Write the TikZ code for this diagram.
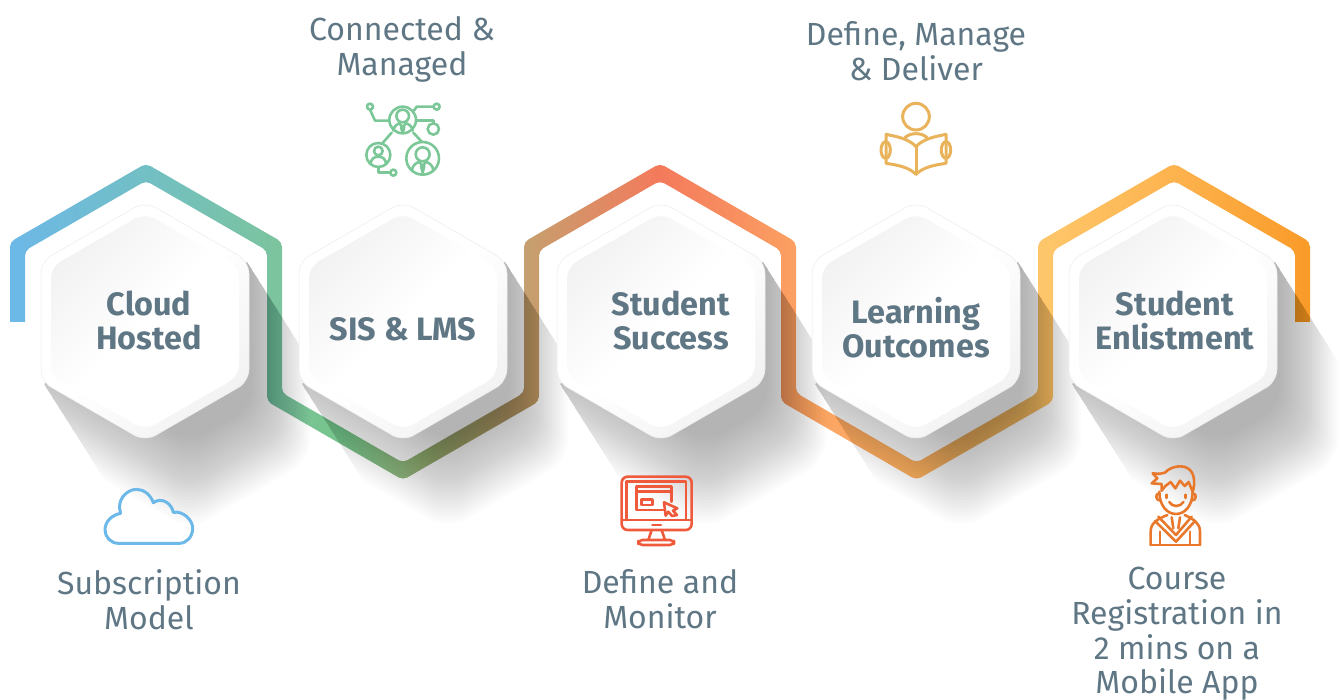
\documentclass[tikz,border=0pt]{standalone}
\usepackage{fontspec}
\setmainfont{Fira Sans}
\definecolor{slatetext}{HTML}{5F7684}
\definecolor{bandA}{HTML}{6CB8E8}
\definecolor{bandB}{HTML}{72BFC4}
\definecolor{bandC}{HTML}{7CC49C}
\definecolor{bandD}{HTML}{76C48A}
\definecolor{bandE}{HTML}{C79E6E}
\definecolor{bandF}{HTML}{F47A5C}
\definecolor{bandG}{HTML}{FB9F62}
\definecolor{bandH}{HTML}{FEC66A}
\definecolor{bandI}{HTML}{FDB34E}
\definecolor{bandJ}{HTML}{F99A28}
\definecolor{cloudblue}{HTML}{6CB8E8}
\definecolor{netgreen}{HTML}{7CC797}
\definecolor{screenred}{HTML}{EF5A3C}
\definecolor{bookgold}{HTML}{E8B35A}
\definecolor{pupilorange}{HTML}{E8792C}
\pgfdeclarehorizontalshading{bandshade}{100bp}{color(0bp)=(bandA); color(25bp)=(bandA); color(30.23bp)=(bandB); color(35.46bp)=(bandC); color(37.69bp)=(bandD); color(45.04bp)=(bandE); color(50bp)=(bandF); color(55bp)=(bandG); color(64.81bp)=(bandH); color(69.77bp)=(bandI); color(75bp)=(bandJ); color(100bp)=(bandJ)}
\tikzset{
  hex label/.style={font=\bfseries\fontsize{32.4}{34}\selectfont, text=slatetext, align=center},
  caption label/.style={font=\fontsize{32}{34.7}\selectfont, text=slatetext, align=center, inner sep=0pt},
  shadow step/.style={fill=black, opacity=0.0105, rounded corners=20pt},
  hex outer/.style={left color=white, right color=black!5, middle color=white, shading angle=45, draw=black!8, line width=0.5pt, rounded corners=12pt},
  hex inner/.style={left color=black!5, right color=white, middle color=white, shading angle=45, rounded corners=11pt},
  icon line/.style={line width=2.6pt, line join=round, line cap=round}
}
\begin{document}
\begin{tikzpicture}[x=1pt, y=-1pt]
    \useasboundingbox (0,0) rectangle (1341,700);

    % Ribbon behind the cells
    \shade[shading=bandshade] (10,322) [rounded corners=5pt] -- (10,242) -- (146,163.5) -- (282,242) -- (282,392.8) -- (403,462.7) -- (524,392.8) -- (524,242) -- (660,163.5) -- (796,242) -- (796,392.8) -- (916.5,462.7) -- (1038,392.8) -- (1038,242) -- (1174,163.5) -- (1310,242) [sharp corners] -- (1310,322) -- (1295,322) [rounded corners=5pt] -- (1295,250.6) -- (1174,180.8) -- (1053,250.6) -- (1053,401.4) -- (916.5,480) -- (781,401.4) -- (781,250.6) -- (660,180.8) -- (539,250.6) -- (539,401.4) -- (403,480) -- (267,401.4) -- (267,250.6) -- (146,180.8) -- (25,250.6) [sharp corners] -- (25,322) -- cycle;

    % Long shadows
    \foreach \cx in {145,403,661,916,1173} {
        \begin{scope}
            \clip ({\cx+102},262) -- ({\cx+232},467) -- ({\cx+29},589) -- ({\cx-101},384) -- cycle;
            \foreach \k in {0,...,29}
                \fill[shadow step] ({\cx-110},200) -- ({\cx+165-2*\k},200) -- ({\cx+165-2*\k},{460.4-1.84*\k}) -- ({\cx+45},{530-3*\k}) -- ({\cx-110},{440-3*\k}) -- cycle;
        \end{scope}
    }

    % Cells
    \foreach \cx in {145,403,661,916,1173} {
        \path[hex outer] (\cx,201.5) -- ({\cx+104},261.5) -- ({\cx+104},381.5) -- (\cx,441.5) -- ({\cx-104},381.5) -- ({\cx-104},261.5) -- cycle;
        \path[hex inner] (\cx,213) -- ({\cx+94},267) -- ({\cx+94},376) -- (\cx,430) -- ({\cx-94},376) -- ({\cx-94},267) -- cycle;
    }

    % Cell titles
    \node[hex label] (cloud) at (149,320) {Cloud\\Hosted};
    \node[hex label] (sis) at (403,329) {SIS \& LMS};
    \node[hex label] (success) at (671,320) {Student\\Success};
    \node[hex label] (outcomes) at (916,328) {Learning\\Outcomes};
    \node[hex label] (enlist) at (1175,320) {Student\\Enlistment};

    % Captions
    \node[caption label] (subscription) at (149,600) {Subscription\\Model};
    \node[caption label] (connected) at (402,49.5) {Connected \&\\Managed};
    \node[caption label] (monitor) at (660,599) {Define and\\Monitor};
    \node[caption label] (deliver) at (916,51.5) {Define, Manage\\\& Deliver};
    \node[caption label] (course) at (1177,634) {Course\\Registration in\\2 mins on a\\Mobile App};

    % Cloud icon
    \begin{scope}[shift={(90,480)}, x=0.3333pt, y=-0.3333pt, icon line, line width=3pt, draw=cloudblue]
        \draw (85,190) .. controls (62,190) and (45,170) .. (45,150) .. controls (45,125) and (65,105) .. (92,100) .. controls (78,60) and (110,28) .. (140,28) .. controls (162,28) and (182,45) .. (190,68) .. controls (215,50) and (245,70) .. (250,97) .. controls (280,92) and (308,120) .. (308,145) .. controls (308,170) and (290,190) .. (268,190) -- cycle;
    \end{scope}

    % Network icon
    \begin{scope}[shift={(350,90)}, x=0.3333pt, y=-0.3333pt, icon line, draw=netgreen]
        \draw (158,90) circle[radius=40];
        \draw (158,78) circle[radius=19];
        \draw (130,122) .. controls (132,108) and (142,102) .. (148,100) -- (158,112) -- (168,100) .. controls (176,102) and (186,108) .. (188,122);
        \draw (153,112) -- (158,128) -- (163,112);
        \draw (85,195) circle[radius=36];
        \draw (85,183) circle[radius=13];
        \draw (62,222) .. controls (62,208) and (72,200) .. (85,200) .. controls (98,200) and (108,208) .. (108,222);
        \draw (218,205) circle[radius=49];
        \draw (218,193) circle[radius=21];
        \draw (186,240) .. controls (188,226) and (198,218) .. (208,216) -- (218,228) -- (228,216) .. controls (238,218) and (248,226) .. (250,240);
        \draw (213,228) -- (218,248) -- (223,228);
        \draw (60,50) circle[radius=9];
        \draw (60,59) -- (75,92) -- (118,92);
        \draw (260,50) circle[radius=9];
        \draw (251,50) -- (200,50) -- (192,62);
        \draw (250,117) circle[radius=17];
        \draw (250,100) -- (250,92) -- (198,92);
        \draw (125,128) -- (97,160);
        \draw (190,128) -- (216,156);
        \draw (85,231) -- (85,248) -- (121,248);
        \draw (130,248) circle[radius=9];
    \end{scope}

    % Reader icon
    \begin{scope}[shift={(860,95)}, x=0.3333pt, y=-0.3333pt, icon line, line width=3pt, draw=bookgold]
        \draw (168,65) circle[radius=40];
        \draw (168,155) -- (168,238);
        \draw (168,155) .. controls (145,130) and (110,125) .. (78,118) -- (78,205) .. controls (110,210) and (145,215) .. (168,238) .. controls (191,215) and (226,210) .. (258,205) -- (258,118) .. controls (226,125) and (191,130) .. (168,155);
        \draw (77,165) ellipse[x radius=14, y radius=25];
        \draw (258,165) ellipse[x radius=14, y radius=25];
        \draw (135,128) .. controls (150,112) and (186,112) .. (201,128);
    \end{scope}

    % Monitor icon
    \begin{scope}[shift={(600,465)}, x=0.3333pt, y=-0.3333pt, icon line, draw=screenred]
        \draw[rounded corners=6pt] (65,35) rectangle (275,195);
        \draw (80,165) -- (80,50) -- (258,50) -- (258,165);
        \draw (65,165) -- (275,165);
        \draw (157,180) -- (183,180);
        \draw (155,195) -- (145,225);
        \draw (185,195) -- (195,225);
        \draw[rounded corners=4pt] (115,225) rectangle (222,240);
        \draw (190,135) -- (110,135) -- (110,65) -- (215,65) -- (215,110);
        \draw (110,80) -- (215,80);
        \draw (125,103) rectangle (157,120);
        \draw (192,112) -- (232,130) -- (219,137) -- (231,150) -- (216,153) -- (205,140) -- (197,152) -- cycle;
    \end{scope}

    % Pupil icon
    \begin{scope}[shift={(1120,460)}, x=0.3333pt, y=-0.3333pt, icon line, draw=pupilorange]
        \draw (125,92) -- (125,72) -- (95,70) -- (112,55) -- (98,40) .. controls (115,42) and (125,42) .. (135,38) .. controls (150,20) and (190,10) .. (210,30) .. controls (225,45) and (225,75) .. (218,95) -- (206,66) -- (194,78) -- (180,62) -- (166,85) -- (152,66) -- (136,78) -- cycle;
        \draw (118,95) .. controls (118,135) and (140,162) .. (168,162) .. controls (196,162) and (218,135) .. (218,95);
        \draw (118,100) .. controls (105,100) and (105,122) .. (122,122);
        \draw (218,100) .. controls (231,100) and (231,122) .. (214,122);
        \draw (140,104) -- (140,114);
        \draw (197,104) -- (197,114);
        \draw (148,126) .. controls (155,142) and (182,142) .. (190,126);
        \draw (92,255) -- (92,215) .. controls (92,190) and (110,178) .. (142,165);
        \draw (240,255) -- (240,215) .. controls (240,190) and (222,178) .. (194,165);
        \draw (92,255) -- (240,255);
        \draw (115,170) -- (168,225) -- (215,170);
        \draw (105,183) -- (168,245) -- (225,183);
        \draw (155,172) -- (160,205);
        \draw (180,172) -- (175,205);
        \draw (120,215) -- (120,255);
        \draw (210,215) -- (210,255);
    \end{scope}

\end{tikzpicture}
\end{document}
